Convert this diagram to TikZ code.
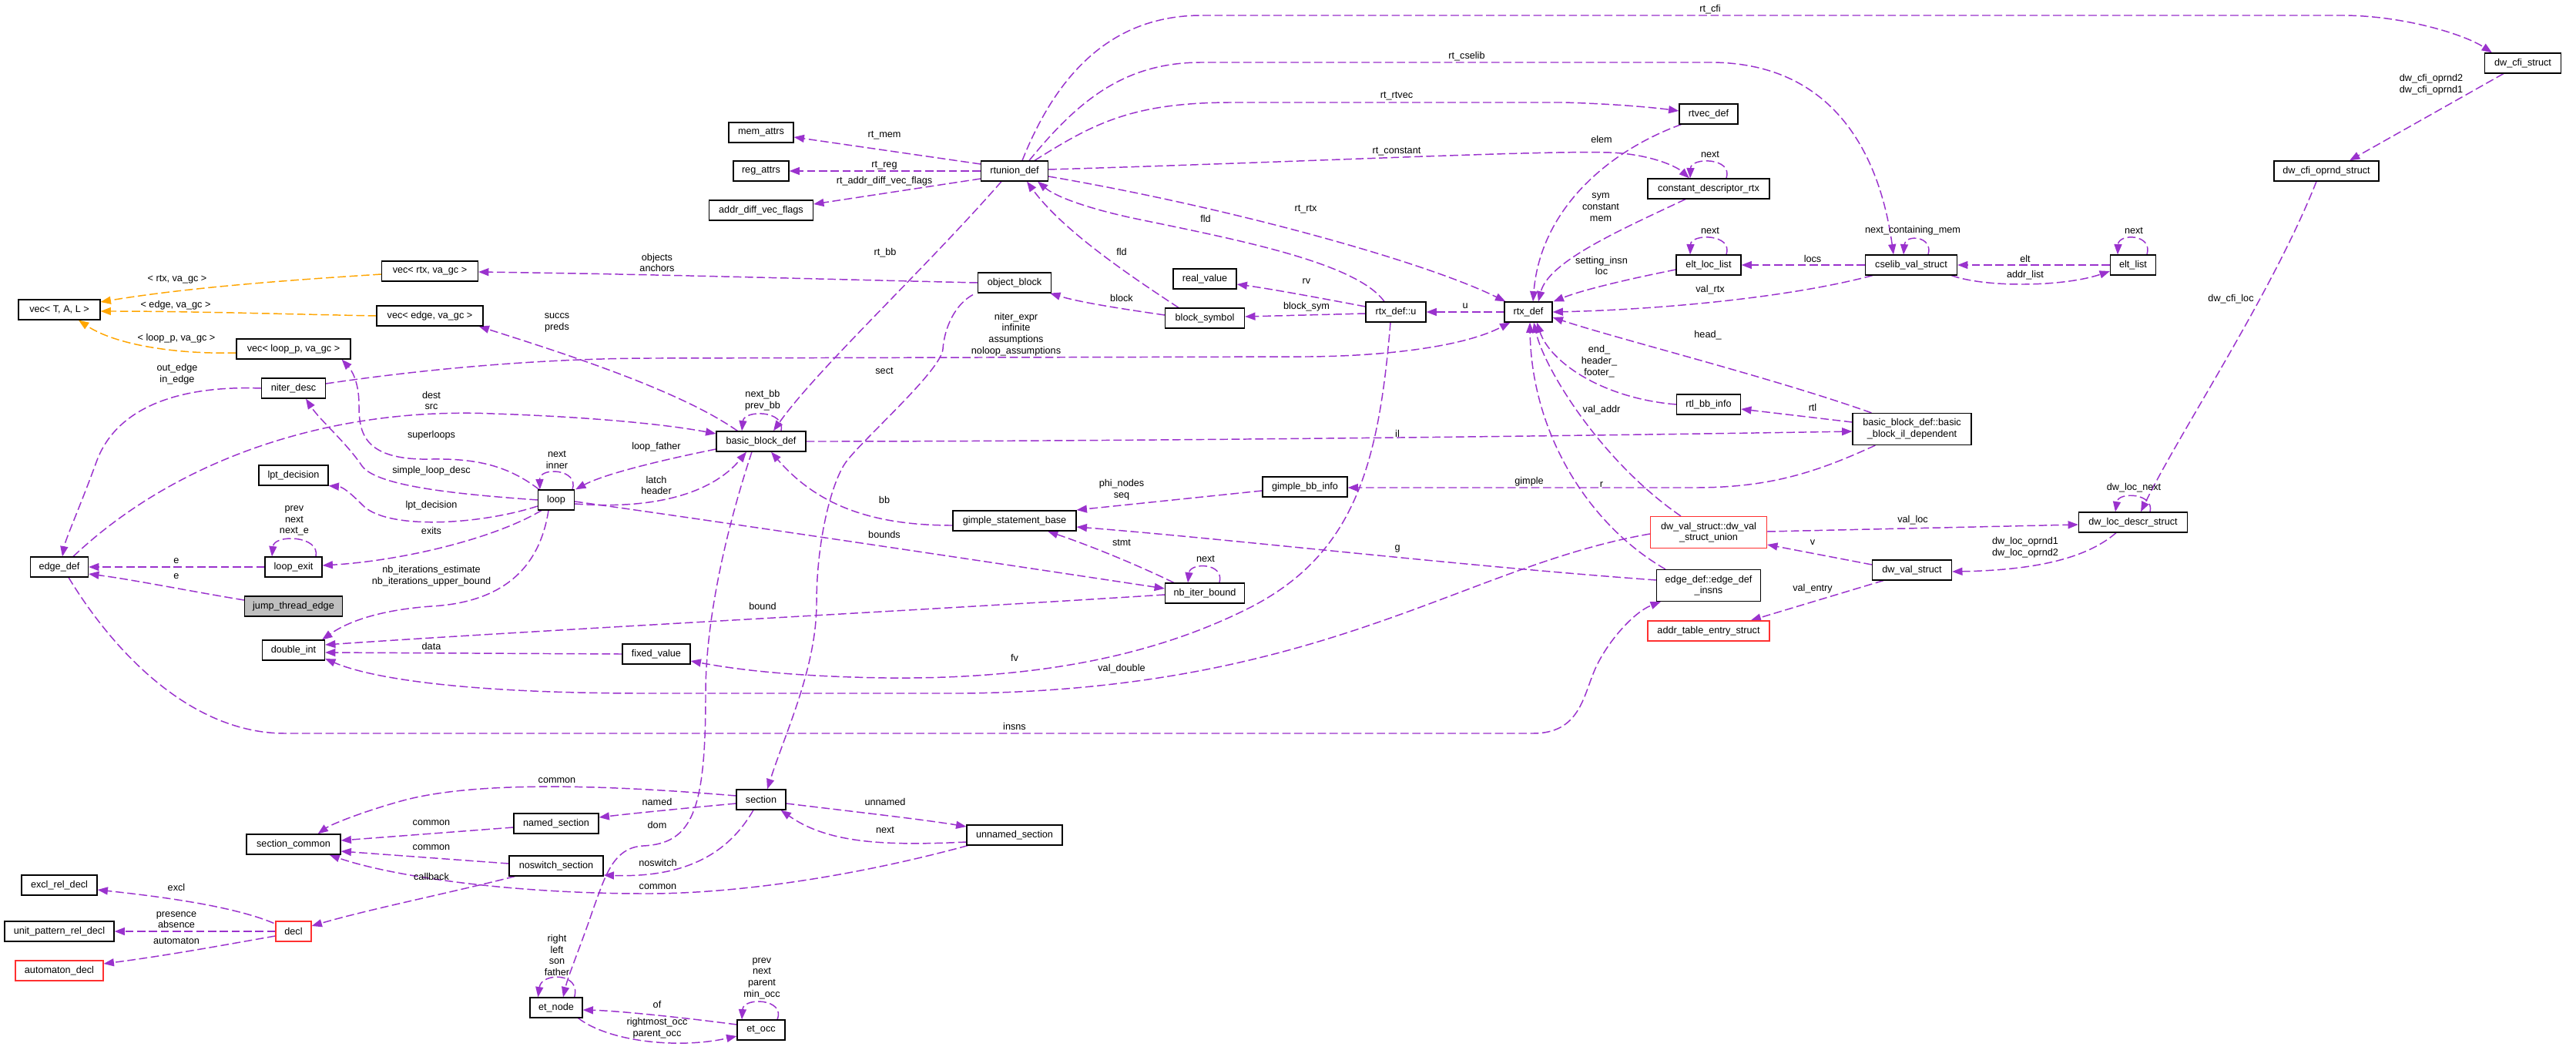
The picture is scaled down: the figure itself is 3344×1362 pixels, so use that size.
\documentclass[tikz,border=0pt]{standalone}
\usepackage{fontspec}
\setmainfont{Liberation Sans}
\usetikzlibrary{arrows.meta,calc}
\definecolor{pc}{HTML}{9A32CD}
\definecolor{oc}{HTML}{FFA500}
\definecolor{gf}{HTML}{BFBFBF}
\definecolor{rb}{HTML}{FF3030}
\newcommand\dfs{\fontsize{9.5}{11}\selectfont}
\pgfdeclarelayer{edges}
\pgfdeclarelayer{back}
\pgfsetlayers{back,edges,main}
\begin{document}
\begin{tikzpicture}[x=0.75pt,y=-0.75pt,
 box/.style={draw=black,line width=0.9pt,fill=white,minimum height=19.5pt,inner xsep=2pt,inner ysep=1pt,font=\dfs,align=center},
 bw/.style={minimum width=#1*0.75pt},
 redbox/.style={box,draw=rb},
 twol/.style={minimum height=30.75pt},
 lbl/.style={font=\dfs,align=center,inner sep=0pt},
 rel/.style={draw=pc,line width=1.1pt,dash pattern=on 8pt off 3.5pt,-{Triangle[length=10pt,width=7.5pt]}},
 tmpl/.style={rel,draw=oc}]
\begin{pgfonlayer}{back}
\path[use as bounding box,fill=white] (0,0) rectangle (3344,1362);
\end{pgfonlayer}

% ---------------- nodes ----------------
\node[box,bw=106] (vecTAL) at (77,402) {vec< T, A, L >};
\node[box,bw=125] (vecrtx) at (558,352) {vec< rtx, va\_gc >};
\node[box,bw=138] (vecedge) at (558,410) {vec< edge, va\_gc >};
\node[box,bw=148] (vecloop) at (381,453) {vec< loop\_p, va\_gc >};
\node[box,bw=84] (memattrs) at (988,172) {mem\_attrs};
\node[box,bw=72] (regattrs) at (988,222) {reg\_attrs};
\node[box,bw=135] (adv) at (988,273) {addr\_diff\_vec\_flags};
\node[box,bw=87] (rtunion) at (1317,222) {rtunion\_def};
\node[box,bw=95] (objblock) at (1317,367) {object\_block};
\node[box,bw=82] (realvalue) at (1564,362) {real\_value};
\node[box,bw=103] (blocksym) at (1564,413) {block\_symbol};
\node[box,bw=76] (rtvec) at (2218,148) {rtvec\_def};
\node[box,bw=158] (cdr) at (2218,245) {constant\_descriptor\_rtx};
\node[box,bw=84] (ell) at (2218,344) {elt\_loc\_list};
\node[box,bw=119] (cselib) at (2481,344) {cselib\_val\_struct};
\node[box,bw=62] (rtx) at (1984,405) {rtx\_def};
\node[box,bw=78] (rtxu) at (1812,405) {rtx\_def::u};
\node[box,bw=99] (dcs) at (3275,82) {dw\_cfi\_struct};
\node[box,bw=136] (dco) at (3020,222) {dw\_cfi\_oprnd\_struct};
\node[box,bw=59] (eltlist) at (2769,344) {elt\_list};
\node[box,bw=83] (niter) at (381,504) {niter\_desc};
\node[box,bw=90] (lpt) at (381,617) {lpt\_decision};
\node[box,bw=47] (loop) at (722,649) {loop};
\node[box,bw=75] (edgedef) at (77,736) {edge\_def};
\node[box,bw=74] (loopexit) at (381,736) {loop\_exit};
\node[box,bw=127,fill=gf] (jte) at (381,787) {jump\_thread\_edge};
\node[box,bw=81] (dint) at (381,844) {double\_int};
\node[box,bw=88] (fixed) at (852,849) {fixed\_value};
\node[box,bw=116] (bbd) at (988,573) {basic\_block\_def};
\node[box,bw=160] (gsb) at (1317,676) {gimple\_statement\_base};
\node[box,bw=103] (nbib) at (1564,770) {nb\_iter\_bound};
\node[box,bw=110] (gbi) at (1694,632) {gimple\_bb\_info};
\node[box,bw=83] (rtlbb) at (2218,525) {rtl\_bb\_info};
\node[box,bw=154,twol] (bbil) at (2482,557) {basic\_block\_def::basic\\\_block\_il\_dependent};
\node[redbox,bw=151,twol] (dvu) at (2218,691) {dw\_val\_struct::dw\_val\\\_struct\_union};
\node[box,bw=135,twol] (edi) at (2218,760) {edge\_def::edge\_def\\\_insns};
\node[redbox,bw=158] (ate) at (2218,819) {addr\_table\_entry\_struct};
\node[box,bw=103] (dvs) at (2482,740) {dw\_val\_struct};
\node[box,bw=141] (dld) at (2769,678) {dw\_loc\_descr\_struct};
\node[box,bw=122] (sc) at (381,1096) {section\_common};
\node[box,bw=110] (named) at (722,1069) {named\_section};
\node[box,bw=122] (nosw) at (722,1124) {noswitch\_section};
\node[box,bw=98] (excl) at (77,1149) {excl\_rel\_decl};
\node[redbox,bw=46] (decl) at (381,1209) {decl};
\node[box,bw=142] (upr) at (77,1209) {unit\_pattern\_rel\_decl};
\node[redbox,bw=114] (auto) at (77,1260) {automaton\_decl};
\node[box,bw=68] (etnode) at (722,1308) {et\_node};
\node[box,bw=64] (section) at (988,1038) {section};
\node[box,bw=124] (unnamed) at (1317,1084) {unnamed\_section};
\node[box,bw=62] (etocc) at (988,1337) {et\_occ};

% ---------------- labels ----------------
\node[lbl] (l1) at (230,363) {< rtx, va\_gc >};
\node[lbl] (l2) at (228,396) {< edge, va\_gc >};
\node[lbl] (l3) at (229,439) {< loop\_p, va\_gc >};
\node[lbl] (l4) at (853,341) {objects\\anchors};
\node[lbl] (l5) at (723,419) {succs\\preds};
\node[lbl] (l6) at (560,520) {dest\\src};
\node[lbl] (l7) at (560,565) {superloops};
\node[lbl] (l8) at (560,611) {simple\_loop\_desc};
\node[lbl] (l9) at (560,656) {lpt\_decision};
\node[lbl] (l10) at (560,689) {exits};
\node[lbl] (l11) at (723,597) {next\\inner};
\node[lbl] (l12) at (382,676) {prev\\next\\next\_e};
\node[lbl] (l13) at (229,728) {e};
\node[lbl] (l14) at (229,748) {e};
\node[lbl] (l15) at (230,486) {out\_edge\\in\_edge};
\node[lbl] (l16) at (560,748) {nb\_iterations\_estimate\\nb\_iterations\_upper\_bound};
\node[lbl] (l17) at (560,839) {data};
\node[lbl] (l18) at (990,787) {bound};
\node[lbl] (l19) at (1456,868) {val\_double};
\node[lbl] (l20) at (1317,854) {fv};
\node[lbl] (l21) at (1149,328) {rt\_bb};
\node[lbl] (l22) at (990,520) {next\_bb\\prev\_bb};
\node[lbl] (l23) at (852,580) {loop\_father};
\node[lbl] (l24) at (852,630) {latch\\header};
\node[lbl] (l25) at (1148,649) {bb};
\node[lbl] (l26) at (1814,563) {il};
\node[lbl] (l27) at (1148,694) {bounds};
\node[lbl] (l28) at (1456,636) {phi\_nodes\\seq};
\node[lbl] (l29) at (1814,712) {g};
\node[lbl] (l30) at (1456,704) {stmt};
\node[lbl] (l31) at (1565,725) {next};
\node[lbl] (l32) at (1985,625) {gimple};
\node[lbl] (l33) at (2353,529) {rtl};
\node[lbl] (l34) at (2076,469) {end\_\\header\_\\footer\_};
\node[lbl] (l35) at (2217,435) {head\_};
\node[lbl] (l36) at (2079,629) {r};
\node[lbl] (l37) at (2079,532) {val\_addr};
\node[lbl] (l38) at (2079,345) {setting\_insn\\loc};
\node[lbl] (l39) at (2220,376) {val\_rtx};
\node[lbl] (l40) at (2353,336) {locs};
\node[lbl] (l41) at (2629,336) {elt};
\node[lbl] (l42) at (2629,357) {addr\_list};
\node[lbl] (l43) at (2770,299) {next};
\node[lbl] (l44) at (2220,299) {next};
\node[lbl] (l45) at (2220,200) {next};
\node[lbl] (l46) at (2483,299) {next\_containing\_mem};
\node[lbl] (l47) at (1904,73) {rt\_cselib};
\node[lbl] (l48) at (1813,197) {rt\_constant};
\node[lbl] (l49) at (1813,125) {rt\_rtvec};
\node[lbl] (l50) at (2079,181) {elem};
\node[lbl] (l51) at (2078,269) {sym\\constant\\mem};
\node[lbl] (l52) at (1695,272) {rt\_rtx};
\node[lbl] (l53) at (1902,397) {u};
\node[lbl] (l54) at (1565,284) {fld};
\node[lbl] (l55) at (1456,327) {fld};
\node[lbl] (l56) at (1696,365) {rv};
\node[lbl] (l57) at (1696,398) {block\_sym};
\node[lbl] (l58) at (1456,387) {block};
\node[lbl] (l59) at (1148,481) {sect};
\node[lbl] (l60) at (1319,434) {niter\_expr\\infinite\\assumptions\\noloop\_assumptions};
\node[lbl] (l61) at (1317,943) {insns};
\node[lbl] (l62) at (2483,675) {val\_loc};
\node[lbl] (l63) at (2353,704) {v};
\node[lbl] (l64) at (2629,711) {dw\_loc\_oprnd1\\dw\_loc\_oprnd2};
\node[lbl] (l65) at (2353,764) {val\_entry};
\node[lbl] (l66) at (2770,633) {dw\_loc\_next};
\node[lbl] (l67) at (2896,388) {dw\_cfi\_loc};
\node[lbl] (l68) at (3156,110) {dw\_cfi\_oprnd2\\dw\_cfi\_oprnd1};
\node[lbl] (l69) at (2220,12) {rt\_cfi};
\node[lbl] (l70) at (1148,176) {rt\_mem};
\node[lbl] (l71) at (1148,215) {rt\_reg};
\node[lbl] (l72) at (1148,235) {rt\_addr\_diff\_vec\_flags};
\node[lbl] (l73) at (723,1013) {common};
\node[lbl] (l74) at (560,1068) {common};
\node[lbl] (l75) at (560,1100) {common};
\node[lbl] (l76) at (854,1151) {common};
\node[lbl] (l77) at (853,1041) {named};
\node[lbl] (l78) at (854,1120) {noswitch};
\node[lbl] (l79) at (853,1071) {dom};
\node[lbl] (l80) at (229,1152) {excl};
\node[lbl] (l81) at (229,1194) {presence\\absence};
\node[lbl] (l82) at (229,1221) {automaton};
\node[lbl] (l83) at (560,1138) {callback};
\node[lbl] (l84) at (723,1240) {right\\left\\son\\father};
\node[lbl] (l85) at (853,1304) {of};
\node[lbl] (l86) at (853,1335) {rightmost\_occ\\parent\_occ};
\node[lbl] (l87) at (989,1270) {prev\\next\\parent\\min\_occ};
\node[lbl] (l88) at (1149,1041) {unnamed};
\node[lbl] (l89) at (1149,1077) {next};

% ---------------- edges ----------------
\begin{pgfonlayer}{edges}
\draw[tmpl] ($(vecrtx.west)+(0,4)$) .. controls (400,362) and (250,372) .. ($(vecTAL.east)+(0,-10)$);
\draw[tmpl] (vecedge.west) .. controls (380,408) and (250,404) .. ($(vecTAL.east)+(0,2)$);
\draw[tmpl] ($(vecloop.west)+(0,5)$) .. controls (230,460) and (150,448) .. ($(vecTAL.south)+(25,0)$);

\draw[rel] (objblock.west) .. controls (1050,362) and (850,356) .. ($(vecrtx.east)+(0,1)$);
\draw[rel] ($(bbd.north west)+(28,0)$) .. controls (880,505) and (720,455) .. ($(vecedge.south east)+(-6,0)$);
\draw[rel] ($(edgedef.north)+(18,0)$) .. controls (230,595) and (430,528) .. (640,537) .. controls (760,541) and (860,550) .. ($(bbd.west)+(0,-10)$);
\draw[rel] ($(loop.north west)+(2,0)$) .. controls (660,605) and (620,595) .. (560,596) .. controls (470,598) and (466,560) .. (466,525) .. controls (466,495) and (456,480) .. ($(vecloop.south east)+(-12,0)$);
\draw[rel] (loop.west) .. controls (600,642) and (490,632) .. (470,605) .. controls (450,575) and (415,545) .. ($(niter.south)+(16,0)$);
\draw[rel] ($(loop.west)+(0,8)$) .. controls (620,682) and (500,688) .. (470,655) .. controls (455,640) and (445,632) .. (lpt.south east);
\draw[rel] ($(loop.south west)+(5,0)$) .. controls (640,700) and (520,728) .. ($(loopexit.east)+(0,-2)$);
\draw[rel] ($(loop.north east)+(-3,0)$) .. controls (752,608) and (700,606) .. ($(loop.north west)+(3,0)$);
\draw[rel] ($(loopexit.north)+(29,0)$) .. controls (416,695) and (356,693) .. ($(loopexit.north)+(-28,0)$);
\draw[rel] (loopexit.west) -- (edgedef.east);
\draw[rel] ($(jte.west)+(0,-8)$) .. controls (250,768) and (170,752) .. ($(edgedef.east)+(0,9)$);
\draw[rel] (niter.west) .. controls (230,500) and (150,530) .. (125,600) .. controls (105,655) and (85,700) .. ($(edgedef.north)+(4,0)$);
\draw[rel] ($(loop.south)+(-10,0)$) .. controls (700,740) and (650,782) .. (560,787) .. controls (490,792) and (450,808) .. ($(dint.north east)+(-4,0)$);
\draw[rel] (fixed.west) -- ($(dint.east)+(0,3)$);
\draw[rel] ($(nbib.west)+(0,2)$) .. controls (1200,792) and (700,818) .. ($(dint.east)+(0,-7)$);
\draw[rel] ($(dvu.west)+(0,2)$) .. controls (1900,735) and (1720,895) .. (1250,900) -- (840,900) .. controls (600,900) and (480,880) .. ($(dint.east)+(0,11)$);
\draw[rel] ($(rtxu.south)+(-7,0)$) .. controls (1790,600) and (1760,720) .. (1620,790) .. controls (1500,850) and (1350,882) .. (1150,880) .. controls (1020,878) and (950,868) .. ($(fixed.east)+(0,9)$);
\draw[rel] ($(rtunion.south)+(-17,0)$) .. controls (1200,350) and (1060,480) .. ($(bbd.north)+(16,0)$);
\draw[rel] ($(bbd.north)+(26,0)$) .. controls (1020,532) and (966,532) .. ($(bbd.north)+(-25,0)$);
\draw[rel] ($(bbd.west)+(0,10)$) .. controls (860,597) and (785,615) .. ($(loop.north east)+(1,0)$);
\draw[rel] ($(loop.east)+(0,5)$) .. controls (850,662) and (925,640) .. ($(bbd.south)+(-19,0)$);
\draw[rel] ($(gsb.west)+(0,6)$) .. controls (1130,682) and (1060,655) .. ($(bbd.south)+(13,0)$);
\draw[rel] (bbd.east) .. controls (1500,573) and (2100,565) .. ($(bbil.west)+(0,3)$);
\draw[rel] ($(loop.east)+(0,2)$) .. controls (900,672) and (1300,732) .. ($(nbib.west)+(0,-6)$);
\draw[rel] ($(gbi.west)+(0,5)$) -- ($(gsb.east)+(0,-14)$);
\draw[rel] ($(edi.west)+(0,-7)$) .. controls (1900,735) and (1600,700) .. ($(gsb.east)+(0,8)$);
\draw[rel] ($(nbib.north west)+(12,0)$) .. controls (1480,735) and (1420,710) .. ($(gsb.south)+(43,0)$);
\draw[rel] ($(nbib.north)+(19,0)$) .. controls (1590,730) and (1545,730) .. ($(nbib.north)+(-22,0)$);
\draw[rel] ($(bbil.south west)+(30,0)$) .. controls (2360,612) and (2300,633) .. (2200,633) -- ($(gbi.east)+(0,1)$);
\draw[rel] ($(bbil.west)+(0,-9)$) -- ($(rtlbb.east)+(0,6)$);
\draw[rel] (rtlbb.west) .. controls (2080,517) and (2012,470) .. ($(rtx.south)+(11,0)$);
\draw[rel] ($(bbil.north west)+(25,0)$) .. controls (2300,490) and (2100,440) .. ($(rtx.east)+(0,7)$);
\draw[rel] ($(edi.north west)+(12,0)$) .. controls (2060,680) and (1988,560) .. ($(rtx.south)+(2,0)$);
\draw[rel] ($(dvu.north west)+(40,0)$) .. controls (2080,600) and (2005,480) .. ($(rtx.south)+(7,0)$);
\draw[rel] ($(ell.west)+(0,6)$) .. controls (2100,365) and (2050,378) .. ($(rtx.north east)+(1,0)$);
\draw[rel] ($(cselib.south west)+(10,0)$) .. controls (2320,387) and (2150,402) .. (rtx.east);
\draw[rel] (cselib.west) -- (ell.east);
\draw[rel] (eltlist.west) -- (cselib.east);
\draw[rel] ($(cselib.south east)+(-8,0)$) .. controls (2580,374) and (2680,372) .. ($(eltlist.west)+(0,8)$);
\draw[rel] ($(eltlist.north)+(18,0)$) .. controls (2795,303) and (2750,303) .. ($(eltlist.north)+(-20,0)$);
\draw[rel] ($(ell.north)+(23,0)$) .. controls (2250,303) and (2195,303) .. ($(ell.north)+(-24,0)$);
\draw[rel] ($(cdr.north)+(23,0)$) .. controls (2250,204) and (2195,204) .. ($(cdr.north)+(-24,0)$);
\draw[rel] ($(cselib.north)+(22,0)$) .. controls (2510,306) and (2473,304) .. ($(cselib.north)+(-10,0)$);
\draw[rel] ($(rtunion.north)+(19,0)$) .. controls (1400,130) and (1460,81) .. (1560,81) -- (2220,81) .. controls (2380,81) and (2440,200) .. ($(cselib.north)+(-23,0)$);
\draw[rel] ($(rtunion.east)+(0,-2)$) .. controls (1700,210) and (2000,195) .. (2090,198) .. controls (2140,200) and (2175,215) .. ($(cdr.north)+(-25,0)$);
\draw[rel] ($(rtunion.north)+(26,0)$) .. controls (1420,160) and (1470,133) .. (1600,133) -- (2030,133) .. controls (2100,135) and (2150,140) .. ($(rtvec.west)+(0,-4)$);
\draw[rel] ($(rtvec.south west)+(3,0)$) .. controls (2090,195) and (2000,270) .. ($(rtx.north)+(6,0)$);
\draw[rel] ($(cdr.south)+(-30,0)$) .. controls (2100,300) and (2010,340) .. ($(rtx.north)+(13,0)$);
\draw[rel] ($(rtunion.east)+(0,7)$) .. controls (1600,270) and (1850,340) .. ($(rtx.north west)+(2,0)$);
\draw[rel] (rtx.west) -- (rtxu.east);
\draw[rel] ($(rtxu.north)+(-15,0)$) .. controls (1760,340) and (1600,310) .. (1470,283) .. controls (1410,270) and (1370,255) .. ($(rtunion.south)+(30,0)$);
\draw[rel] ($(blocksym.north)+(-34,0)$) .. controls (1470,360) and (1380,300) .. ($(rtunion.south)+(16,0)$);
\draw[rel] ($(rtxu.west)+(0,-7)$) .. controls (1720,388) and (1650,375) .. ($(realvalue.east)+(0,7)$);
\draw[rel] ($(rtxu.west)+(0,2)$) -- ($(blocksym.east)+(0,-2)$);
\draw[rel] ($(blocksym.west)+(0,-4)$) .. controls (1450,400) and (1400,392) .. ($(objblock.south east)+(-2,0)$);
\draw[rel] ($(objblock.south west)+(-6,2)$) .. controls (1240,395) and (1226,425) .. (1224,453) .. controls (1222,481) and (1120,570) .. (1098,600) .. controls (1080,625) and (1060,700) .. (1060,783) .. controls (1060,866) and (1020,950) .. ($(section.north)+(8,0)$);
\draw[rel] ($(niter.east)+(0,-6)$) .. controls (600,472) and (750,465) .. (850,465) -- (1700,463) .. controls (1800,462) and (1900,450) .. ($(rtx.south west)+(8,0)$);
\draw[rel] ($(edgedef.south)+(12,0)$) .. controls (150,850) and (250,952) .. (370,952) -- (1990,952) .. controls (2050,952) and (2055,905) .. (2070,870) .. controls (2085,835) and (2120,795) .. ($(edi.south west)+(6,0)$);
\draw[rel] ($(dvu.east)+(0,-1)$) -- ($(dld.west)+(0,3)$);
\draw[rel] ($(dvs.west)+(0,-7)$) -- ($(dvu.east)+(0,16)$);
\draw[rel] ($(dld.south)+(-22,0)$) .. controls (2712,722) and (2650,740) .. ($(dvs.east)+(0,2)$);
\draw[rel] ($(dvs.south west)+(15,0)$) -- ($(ate.north east)+(-25,0)$);
\draw[rel] ($(dld.north)+(22,0)$) .. controls (2797,640) and (2750,638) .. ($(dld.north)+(-23,0)$);
\draw[rel] ($(dco.south)+(-13,0)$) .. controls (2950,380) and (2830,560) .. ($(dld.north)+(10,0)$);
\draw[rel] ($(dcs.south west)+(25,0)$) -- ($(dco.north)+(30,0)$);
\draw[rel] ($(rtunion.north)+(10,0)$) .. controls (1370,100) and (1440,20) .. (1560,20) -- (3040,20) .. controls (3120,20) and (3200,45) .. ($(dcs.north west)+(10,0)$);
\draw[rel] ($(rtunion.west)+(0,-9)$) -- ($(memattrs.east)+(0,6)$);
\draw[rel] (rtunion.west) -- (regattrs.east);
\draw[rel] ($(rtunion.west)+(0,10)$) -- ($(adv.east)+(0,-8)$);

\draw[rel] ($(section.west)+(0,-5)$) .. controls (800,1020) and (620,1012) .. (520,1040) .. controls (470,1054) and (430,1070) .. ($(sc.north east)+(-30,0)$);
\draw[rel] ($(named.west)+(0,5)$) -- ($(sc.east)+(0,-5)$);
\draw[rel] ($(nosw.west)+(0,-3)$) -- ($(sc.east)+(0,9)$);
\draw[rel] ($(unnamed.south west)+(2,0)$) .. controls (1100,1140) and (950,1160) .. (840,1160) .. controls (650,1160) and (500,1135) .. ($(sc.south east)+(-15,0)$);
\draw[rel] ($(section.west)+(0,5)$) .. controls (880,1050) and (820,1056) .. ($(named.east)+(0,-8)$);
\draw[rel] ($(section.south)+(-10,0)$) .. controls (950,1100) and (900,1140) .. ($(nosw.east)+(0,12)$);
\draw[rel] ($(section.east)+(0,5)$) .. controls (1120,1055) and (1200,1064) .. ($(unnamed.west)+(0,-11)$);
\draw[rel] ($(unnamed.west)+(0,9)$) .. controls (1150,1098) and (1075,1095) .. ($(section.south east)+(-7,0)$);
\draw[rel] ($(bbd.south)+(-12,0)$) .. controls (945,680) and (916,800) .. (916,900) .. controls (916,1050) and (900,1095) .. (835,1098) .. controls (795,1100) and (785,1140) .. (770,1180) .. controls (755,1225) and (738,1265) .. ($(etnode.north)+(9,0)$);
\draw[rel] ($(decl.north west)+(-2,3)$) .. controls (300,1175) and (200,1163) .. ($(excl.east)+(0,6)$);
\draw[rel] (decl.west) -- (upr.east);
\draw[rel] ($(decl.west)+(0,6)$) .. controls (300,1225) and (220,1240) .. ($(auto.east)+(0,-9)$);
\draw[rel] ($(nosw.south west)+(8,0)$) .. controls (580,1160) and (480,1180) .. ($(decl.east)+(0,-7)$);
\draw[rel] ($(etnode.north east)+(-11,0)$) .. controls (755,1262) and (703,1262) .. ($(etnode.north west)+(11,0)$);
\draw[rel] ($(etocc.west)+(0,-7)$) .. controls (880,1320) and (800,1312) .. ($(etnode.east)+(0,3)$);
\draw[rel] ($(etnode.south east)+(-6,0)$) .. controls (790,1352) and (880,1362) .. ($(etocc.west)+(0,8)$);
\draw[rel] ($(etocc.north)+(21,0)$) .. controls (1020,1296) and (965,1294) .. ($(etocc.north)+(-25,0)$);
\end{pgfonlayer}
\end{tikzpicture}
\end{document}
